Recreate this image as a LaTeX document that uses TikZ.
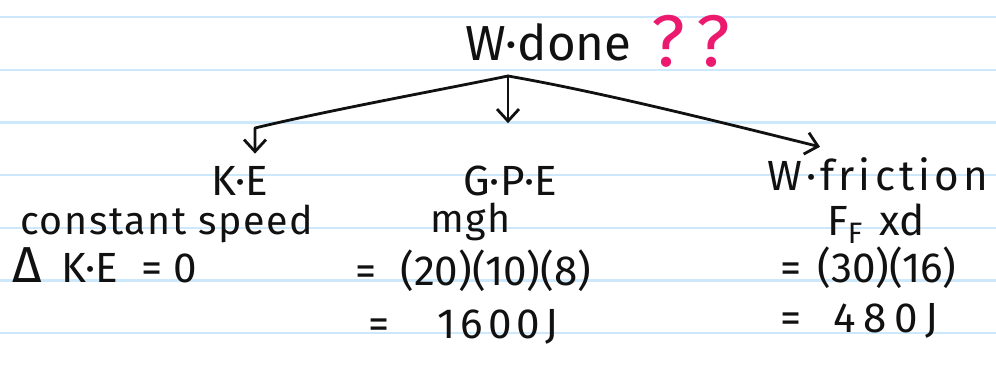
\documentclass[tikz,border=0pt]{standalone}
\usepackage{fontspec}
\setmainfont{Fira Sans}
\usepackage{xcolor}
\usepackage{tikz}
\usetikzlibrary{arrows.meta,calc}
\definecolor{NoteInk}{HTML}{111111}
\definecolor{NoteRule}{HTML}{CDE8FA}
\definecolor{NotePink}{HTML}{EC1A6F}
\newcommand{\spread}[1]{\addfontfeature{LetterSpace=#1}}

\begin{document}
\begin{tikzpicture}[x=0.025cm, y=-0.025cm,
  hand/.style={inner sep=0pt, text=NoteInk, font=\fontsize{30}{36}\selectfont},
  small hand/.style={hand, font=\fontsize{28}{34}\selectfont},
  ruled/.style={draw=NoteRule, line width=1.6pt},
  branch/.style={draw=NoteInk, line width=2pt, line cap=round, line join=round,
    -{Straight Barb[length=0.3cm, width=0.55cm]}}]
  \useasboundingbox (0,0) rectangle (996,384);
  \fill[white] (0,0) rectangle (996,384);
  % ruled paper
  \foreach \i in {0,...,6}
    \draw[ruled] (0,{17+52.7*\i}) -- (996,{17+52.7*\i});
  % heading
  \node[hand, anchor=base west, font=\fontsize{35}{40}\selectfont] (wdone) at (465,60) {W·done};
  \node[hand, anchor=base west, text=NotePink, font=\fontsize{52}{56}\selectfont] (query) at (651,66) {?\,?};
  % kinetic energy
  \node[hand, anchor=base] (ke) at (240,195) {K·E};
  \node[small hand, anchor=base west] (speed) at (20,234) {\spread{4}constant speed};
  \node[hand, anchor=base west] (dke) at (12,282) {{\fontsize{36}{40}\selectfont Δ}\hspace{0.5cm}K·E\hspace{0.6cm}=\hspace{0.25cm}0};
  % potential energy
  \node[hand, anchor=base] (gpe) at (510,195) {G·P·E};
  \node[small hand, anchor=base west] (mgh) at (430,232) {\spread{4}mgh};
  \node[hand, anchor=base west] (gpesub) at (355,285) {=\hspace{0.6cm}(20)(10)(8)};
  \node[hand, anchor=base west] (gperes) at (368,338) {=\hspace{1.2cm}\spread{12}1600J};
  % friction
  \node[hand, anchor=base west] (wfric) at (767,190) {\spread{10}W·friction};
  \node[hand, anchor=base west] (ffd) at (827,235) {F\textsubscript{F}\hspace{0.4cm}xd};
  \node[hand, anchor=base west] (fricsub) at (780,282) {=\hspace{0.4cm}(30)(16)};
  \node[hand, anchor=base west] (fricres) at (780,332) {=\hspace{0.8cm}\spread{18}480J};
  % branches
  \coordinate (fork) at (508,76);
  \coordinate (kebend) at (255,128);
  \draw[branch, shorten >=0.3cm] (fork) .. controls (440,90) and (330,110) .. (kebend) -- (kebend |- ke.north);
  \draw[branch, shorten >=1.05cm] (fork) -- (fork |- gpe.north);
  \draw[branch] (fork) .. controls (600,92) and (720,122) .. ($(wfric.north west)+(53,-10)$);
\end{tikzpicture}
\end{document}
